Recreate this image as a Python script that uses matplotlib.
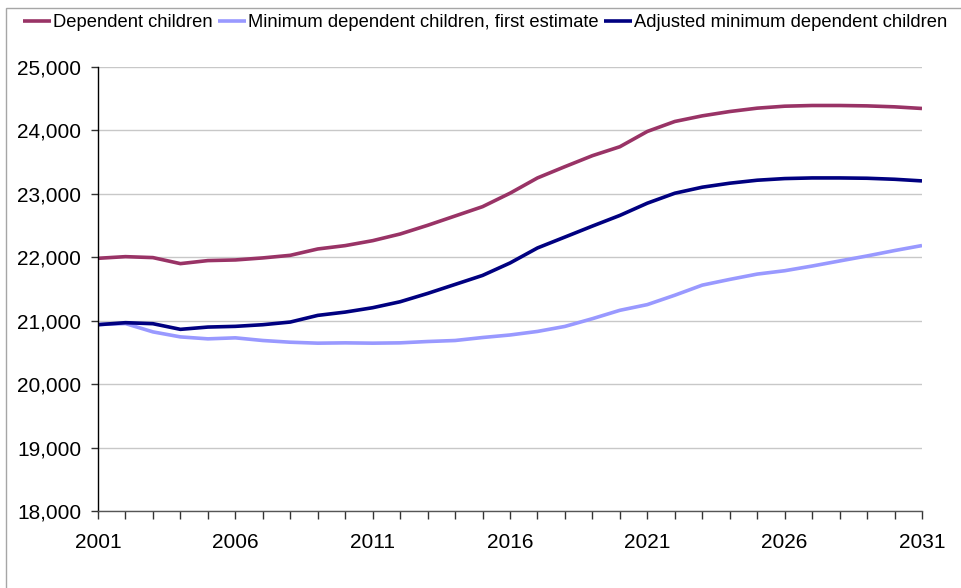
import matplotlib
matplotlib.use("Agg")
import matplotlib.pyplot as plt
from matplotlib.patches import Rectangle
from matplotlib.ticker import FuncFormatter, MultipleLocator, FixedLocator

plt.rcParams['font.family'] = ['Liberation Sans', 'DejaVu Sans']

years = list(range(2001, 2032))
labelled_years = years[::5]

dependent_children = [
    21984, 22010, 21995, 21900, 21948, 21958, 21990, 22031, 22131, 22184,
    22262, 22367, 22504, 22651, 22798, 23010, 23251, 23429, 23602, 23743,
    23984, 24141, 24230, 24298, 24351, 24382, 24393, 24393, 24387, 24372,
    24346,
]

minimum_first_estimate = [
    20940, 20955, 20824, 20745, 20714, 20730, 20688, 20661, 20646, 20651,
    20646, 20651, 20672, 20688, 20735, 20775, 20831, 20910, 21032, 21164,
    21254, 21402, 21561, 21651, 21735, 21788, 21862, 21942, 22021, 22106,
    22185,
]

adjusted_minimum = [
    20937, 20969, 20953, 20864, 20900, 20911, 20937, 20979, 21084, 21136,
    21205, 21299, 21430, 21572, 21714, 21910, 22147, 22319, 22492, 22660,
    22853, 23010, 23105, 23168, 23215, 23241, 23251, 23251, 23246, 23230,
    23204,
]

series_labels = [
    "Dependent children",
    "Minimum dependent children, first estimate",
    "Adjusted minimum dependent children",
]
series_colors = ["#993366", "#9999FF", "#000080"]

W, H = 961, 588
fig = plt.figure(figsize=(W / 100, H / 100), dpi=100)

# chart frame (light grey border along the top and left)
fig.patches.append(Rectangle((6 / W, -0.5), 2.0, 1.5 - 8 / H,
                             transform=fig.transFigure, fill=False,
                             edgecolor="#a6a6a6", linewidth=1.0))

ax = fig.add_axes([98 / W, 77 / H, 824 / W, 444 / H])

for vals, lab, col in zip([dependent_children, minimum_first_estimate, adjusted_minimum],
                          series_labels, series_colors):
    ax.plot(years, vals, color=col, linewidth=2.6, label=lab,
            solid_joinstyle="round", solid_capstyle="butt")

ax.set_xlim(years[0], years[-1])
ax.set_ylim(18000, 25000)

ax.yaxis.set_major_locator(MultipleLocator(1000))
ax.yaxis.set_major_formatter(FuncFormatter(lambda v, p: f"{int(v):,}"))
ax.grid(axis="y", color="#c8c8c8", linewidth=1.0)
ax.set_axisbelow(True)

ax.xaxis.set_major_locator(FixedLocator(labelled_years))
ax.xaxis.set_minor_locator(FixedLocator(years))
ax.xaxis.set_major_formatter(FuncFormatter(lambda v, p: f"{int(v)}"))

for side in ("top", "right"):
    ax.spines[side].set_visible(False)
ax.spines["left"].set_color("#000000")
ax.spines["bottom"].set_color("#555555")
ax.spines["left"].set_linewidth(1.0)
ax.spines["bottom"].set_linewidth(1.0)

ax.tick_params(axis="y", direction="out", length=5, width=1, color="#333333",
               labelsize=15, pad=7)
ax.tick_params(axis="x", which="both", direction="out", length=6, width=1,
               color="#333333")
ax.tick_params(axis="x", which="major", labelsize=15, pad=10)

fig.legend(loc="upper left", bbox_to_anchor=(23 / W, 1 - 14 / H), ncol=3,
           frameon=False, fontsize=13.2, handlelength=1.5, handletextpad=0.15,
           columnspacing=0.28, borderpad=0, borderaxespad=0)

fig.savefig("out.png", dpi=100)
